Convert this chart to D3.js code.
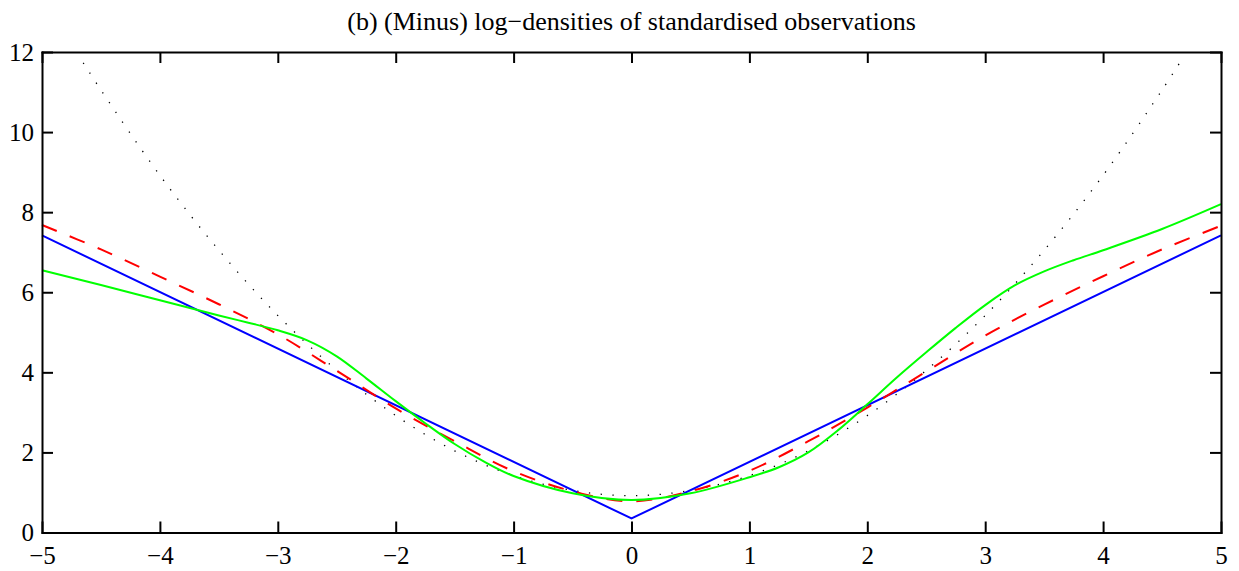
<!DOCTYPE html>
<html>
<head>
<meta charset="utf-8">
<script src="https://cdn.jsdelivr.net/npm/d3@7"></script>
<style>
body { margin: 0; background: #fff; }
text { font-family: "Liberation Serif", "Times New Roman", serif; fill: #000; }
.axis path, .axis line { stroke: #000; stroke-width: 2; }
.line { fill: none; }
</style>
</head>
<body>
<svg id="myGraph" width="1239" height="571"></svg>
<script>
// values
var titleText = "(b) (Minus) log\u2212densities of standardised observations";
var xTicks = [-5, -4, -3, -2, -1, 0, 1, 2, 3, 4, 5];
var yTicks = [0, 2, 4, 6, 8, 10, 12];

// blue, laplace-like (straight pieces)
var blueX = [-5, 0, 5];
var blueY = [7.42, 0.35, 7.42];

// red dashed
var redX = [-5, -4.5, -4, -3.5, -3, -2.5, -2, -1.5, -1, -0.5, 0, 0.5, 1, 1.5, 2, 2.5, 3, 3.5, 4, 4.5, 5];
var redY = [7.68, 7.07, 6.39, 5.70, 4.95, 4.04, 3.10, 2.28, 1.53, 1.03, 0.78, 1.03, 1.54, 2.28, 3.12, 4.02, 4.92, 5.69, 6.40, 7.07, 7.66];

// green solid
var greenX = [-5, -4.5, -4, -3.5, -3.25, -3, -2.75, -2.5, -2.25, -2, -1.75, -1.5, -1.25, -1, -0.5, 0,
	0.5, 1, 1.25, 1.5, 1.75, 2, 2.25, 2.5, 2.75, 3, 3.25, 3.5, 3.75, 4, 4.5, 5];
var greenY = [6.55, 6.18, 5.80, 5.42, 5.24, 5.05, 4.80, 4.40, 3.85, 3.28, 2.73, 2.21, 1.77, 1.41, 0.98, 0.81,
	0.98, 1.38, 1.63, 2.00, 2.55, 3.20, 3.87, 4.50, 5.11, 5.68, 6.17, 6.52, 6.80, 7.05, 7.58, 8.20];

// black dotted, gaussian-like
var dotX = [-4.65, -4.5, -4, -3.5, -3, -2.5, -2, -1.5, -1, -0.5, 0, 0.5, 1, 1.5, 2, 2.5, 3, 3.5, 4, 4.5, 4.65];
var dotY = [11.73, 11.05, 8.92, 7.05, 5.42, 4.05, 2.92, 2.04, 1.42, 1.05, 0.92, 1.05, 1.42, 2.04, 2.92, 4.05, 5.42, 7.05, 8.92, 11.05, 11.73];

var offsetX = 42, offsetY = 52;
var plotW = 1179, plotH = 480.5;

var svg = d3.select("#myGraph");

var xScale = d3.scaleLinear().domain([-5, 5]).range([0, plotW]);
var yScale = d3.scaleLinear().domain([0, 12]).range([plotH, 0]);

var g = svg.append("g").attr("transform", "translate(" + offsetX + "," + offsetY + ")");

function pairs(xs, ys) {
	return xs.map(function(x, i){ return { x: x, y: ys[i] }; });
}

function drawGraph(data, color, curve, dash) {
	var line = d3.line()
		.x(function(d){ return xScale(d.x); })
		.y(function(d){ return yScale(d.y); })
		.curve(curve);
	var p = g.append("path")
		.attr("class", "line")
		.attr("d", line(data))
		.attr("stroke", color)
		.attr("stroke-width", 2);
	if (dash) p.attr("stroke-dasharray", dash);
	return p;
}

drawGraph(pairs(dotX, dotY), "#000", d3.curveCatmullRom, "1.3,10.5")
	.attr("stroke-width", 1.3);
drawGraph(pairs(blueX, blueY), "#0000ff", d3.curveLinear);
drawGraph(pairs(redX, redY), "#ff0000", d3.curveCatmullRom, "16,14");
drawGraph(pairs(greenX, greenY), "#00ff00", d3.curveCatmullRom);

// axes, ticks pointing inward on all four sides
var serif = "Liberation Serif, Times New Roman, serif";

g.append("g").attr("class", "axis")
	.attr("transform", "translate(0," + plotH + ")")
	.call(d3.axisBottom(xScale).tickValues(xTicks).tickSizeInner(-11).tickSizeOuter(0).tickPadding(14))
	.attr("font-family", serif).attr("font-size", 25);

g.append("g").attr("class", "axis")
	.call(d3.axisTop(xScale).tickValues(xTicks).tickSizeInner(-11).tickSizeOuter(0).tickFormat(""));

g.append("g").attr("class", "axis")
	.call(d3.axisLeft(yScale).tickValues(yTicks).tickSizeInner(-11).tickSizeOuter(0).tickPadding(8))
	.attr("font-family", serif).attr("font-size", 25);

g.append("g").attr("class", "axis")
	.attr("transform", "translate(" + plotW + ",0)")
	.call(d3.axisRight(yScale).tickValues(yTicks).tickSizeInner(-11).tickSizeOuter(0).tickFormat(""));

g.selectAll(".axis .domain").attr("stroke-linecap", "square");

svg.append("text")
	.attr("x", offsetX + plotW / 2)
	.attr("y", 30)
	.attr("text-anchor", "middle")
	.style("font-size", "26px")
	.text(titleText);
</script>
</body>
</html>
